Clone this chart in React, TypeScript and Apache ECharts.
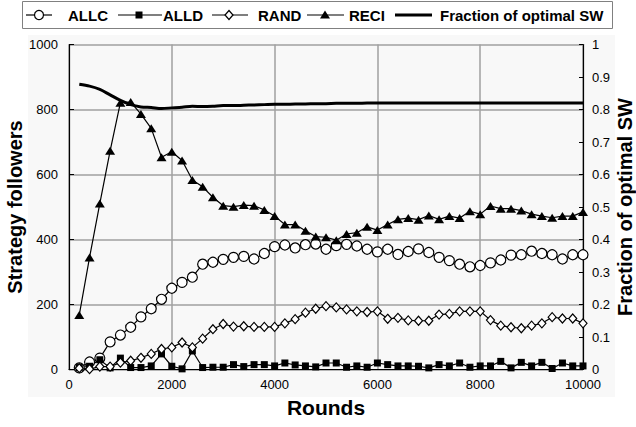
import React, { useEffect, useRef } from "react";
import * as echarts from "echarts";

const rounds = [200, 400, 600, 800, 1000, 1200, 1400, 1600, 1800, 2000, 2200, 2400, 2600, 2800, 3000, 3200, 3400, 3600, 3800, 4000, 4200, 4400, 4600, 4800, 5000, 5200, 5400, 5600, 5800, 6000, 6200, 6400, 6600, 6800, 7000, 7200, 7400, 7600, 7800, 8000, 8200, 8400, 8600, 8800, 9000, 9200, 9400, 9600, 9800, 10000];

const allc = [5, 23, 35, 85, 106, 130, 162, 187, 216, 250, 268, 284, 324, 330, 339, 345, 348, 340, 357, 378, 383, 374, 384, 386, 370, 381, 385, 380, 370, 362, 370, 354, 363, 371, 360, 345, 335, 324, 316, 320, 328, 337, 352, 353, 364, 357, 353, 340, 353, 353];

const alld = [6, 10, 30, 5, 35, 6, 6, 11, 48, 10, 2, 57, 6, 7, 7, 15, 9, 15, 15, 11, 20, 14, 11, 8, 20, 20, 7, 11, 7, 20, 15, 11, 11, 10, 5, 15, 11, 20, 7, 11, 11, 25, 5, 22, 11, 22, 3, 20, 11, 11];

const rand = [4, 1, 9, 9, 21, 27, 36, 48, 63, 68, 83, 68, 95, 124, 140, 132, 133, 131, 131, 131, 142, 155, 175, 187, 195, 191, 185, 179, 177, 179, 156, 159, 151, 150, 150, 169, 171, 179, 179, 179, 152, 135, 130, 127, 135, 142, 161, 157, 157, 142];

const reci = [168, 345, 511, 673, 821, 823, 786, 742, 653, 670, 643, 583, 562, 530, 504, 501, 506, 504, 491, 472, 446, 446, 427, 409, 407, 398, 417, 421, 439, 429, 446, 462, 466, 461, 474, 462, 472, 466, 487, 478, 503, 495, 495, 489, 478, 472, 467, 472, 472, 485];

const sw = [0.878, 0.872, 0.862, 0.845, 0.828, 0.815, 0.808, 0.806, 0.803, 0.805, 0.807, 0.81, 0.809, 0.81, 0.812, 0.812, 0.813, 0.814, 0.815, 0.816, 0.816, 0.817, 0.817, 0.818, 0.818, 0.819, 0.819, 0.819, 0.82, 0.82, 0.82, 0.82, 0.82, 0.82, 0.82, 0.82, 0.82, 0.82, 0.82, 0.82, 0.82, 0.82, 0.82, 0.82, 0.82, 0.82, 0.82, 0.82, 0.82, 0.82];

const legendNames = ["ALLC", "ALLD", "RAND", "RECI", "Fraction of optimal SW"];

const FONT = "Liberation Sans, Arial, sans-serif";

function pairs(vals: number[]) {
  return rounds.map((r, i) => [r, vals[i]]);
}

const plain = (v: number) => String(Math.round(v * 1000) / 1000);

export default function App() {
  const ref = useRef<HTMLDivElement>(null);
  useEffect(() => {
    if (!ref.current) return;
    const chart = echarts.init(ref.current, null, { renderer: "svg" });
    const lineBase = { color: "#000", width: 1.2 };
    const ly = 15;
    const legendText = (x: number, t: string) => ({
      type: "text",
      x,
      y: ly + 0.5,
      style: { text: t, fill: "#000", font: `bold 15px ${FONT}`, verticalAlign: "middle", align: "left" },
    });
    const legendLine = (x1: number, x2: number, w = 1.2) => ({
      type: "line",
      shape: { x1, y1: ly, x2, y2: ly },
      style: { stroke: "#000", lineWidth: w },
    });
    chart.setOption({
      animation: false,
      backgroundColor: "#fff",
      textStyle: { fontFamily: FONT },
      grid: { left: 69, right: 53, top: 44.5, bottom: 57.5, containLabel: false, outerBoundsMode: "none" },
      graphic: [
        {
          type: "rect",
          z: -100,
          silent: true,
          shape: { x: 28, y: 35, width: 587, height: 362 },
          style: { fill: "#f8f8f8" },
        },
        {
          type: "rect",
          shape: { x: 22.5, y: 1.5, width: 590, height: 27 },
          style: { fill: "#fff", stroke: "#808080", lineWidth: 1 },
        },
        legendLine(26, 52),
        { type: "circle", shape: { cx: 39, cy: ly, r: 4.5 }, style: { fill: "#fff", stroke: "#000", lineWidth: 1.2 } },
        legendText(68, legendNames[0]),
        legendLine(118, 162),
        { type: "rect", shape: { x: 135.5, y: ly - 3.5, width: 7, height: 7 }, style: { fill: "#000" } },
        legendText(163, legendNames[1]),
        legendLine(212, 248),
        {
          type: "polygon",
          shape: { points: [[229, ly - 4.5], [233, ly], [229, ly + 4.5], [225, ly]] },
          style: { fill: "#fff", stroke: "#000", lineWidth: 1.2 },
        },
        legendText(258, legendNames[2]),
        legendLine(307, 344),
        {
          type: "polygon",
          shape: { points: [[325, ly - 4.5], [330, ly + 3.5], [320, ly + 3.5]] },
          style: { fill: "#000" },
        },
        legendText(349, legendNames[3]),
        legendLine(395, 432, 3),
        legendText(440, legendNames[4]),
      ],
      xAxis: {
        type: "value",
        min: 0,
        max: 10000,
        interval: 2000,
        name: "Rounds",
        nameLocation: "middle",
        nameGap: 27,
        nameMoveOverlap: false,
        nameTextStyle: { fontSize: 21, fontWeight: "bold", color: "#000", fontFamily: FONT },
        axisLine: { lineStyle: { color: "#000", width: 1.2 } },
        axisTick: { show: false },
        axisLabel: { color: "#000", fontSize: 13, margin: 8, fontFamily: FONT, formatter: plain },
        splitLine: { show: true, lineStyle: { color: "#a0a0a0", width: 1.5 } },
      },
      yAxis: [
        {
          type: "value",
          min: 0,
          max: 1000,
          interval: 200,
          name: "Strategy followers",
          nameLocation: "middle",
          nameGap: 44,
          nameMoveOverlap: false,
          nameTextStyle: { fontSize: 20, fontWeight: "bold", color: "#000", fontFamily: FONT },
          axisLine: { show: true, lineStyle: { color: "#000", width: 1.2 } },
          axisTick: { show: true, inside: true, length: 5, lineStyle: { color: "#000" } },
          axisLabel: { color: "#000", fontSize: 13, margin: 11, fontFamily: FONT, formatter: plain },
          splitLine: { show: true, lineStyle: { color: "#a0a0a0", width: 1.5 } },
        },
        {
          type: "value",
          min: 0,
          max: 1,
          interval: 0.1,
          position: "right",
          name: "Fraction of optimal SW",
          nameLocation: "middle",
          nameGap: 32,
          nameMoveOverlap: false,
          nameTextStyle: { fontSize: 20, fontWeight: "bold", color: "#000", fontFamily: FONT },
          axisLine: { show: true, lineStyle: { color: "#000", width: 1.2 } },
          axisTick: { show: true, inside: true, length: 4, lineStyle: { color: "#000" } },
          axisLabel: { color: "#000", fontSize: 13, margin: 9, fontFamily: FONT, formatter: plain },
          splitLine: { show: false },
        },
      ],
      series: [
        {
          name: legendNames[0],
          type: "line",
          data: pairs(allc),
          symbol: "circle",
          symbolSize: 10,
          lineStyle: lineBase,
          itemStyle: { color: "#fff", borderColor: "#000", borderWidth: 1.2 },
        },
        {
          name: legendNames[1],
          type: "line",
          data: pairs(alld),
          symbol: "rect",
          symbolSize: 7,
          lineStyle: lineBase,
          itemStyle: { color: "#000" },
        },
        {
          name: legendNames[2],
          type: "line",
          data: pairs(rand),
          symbol: "diamond",
          symbolSize: [8, 9],
          lineStyle: lineBase,
          itemStyle: { color: "#fff", borderColor: "#000", borderWidth: 1.2 },
        },
        {
          name: legendNames[3],
          type: "line",
          data: pairs(reci),
          symbol: "triangle",
          symbolSize: [10, 8],
          lineStyle: lineBase,
          itemStyle: { color: "#000" },
        },
        {
          name: legendNames[4],
          type: "line",
          yAxisIndex: 1,
          data: pairs(sw),
          symbol: "none",
          smooth: 0.3,
          lineStyle: { color: "#000", width: 3 },
        },
      ],
    });
    return () => chart.dispose();
  }, []);
  return (
    <div
      ref={ref}
      style={{ position: "fixed", left: 0, top: 0, width: 636, height: 427 }}
    />
  );
}
